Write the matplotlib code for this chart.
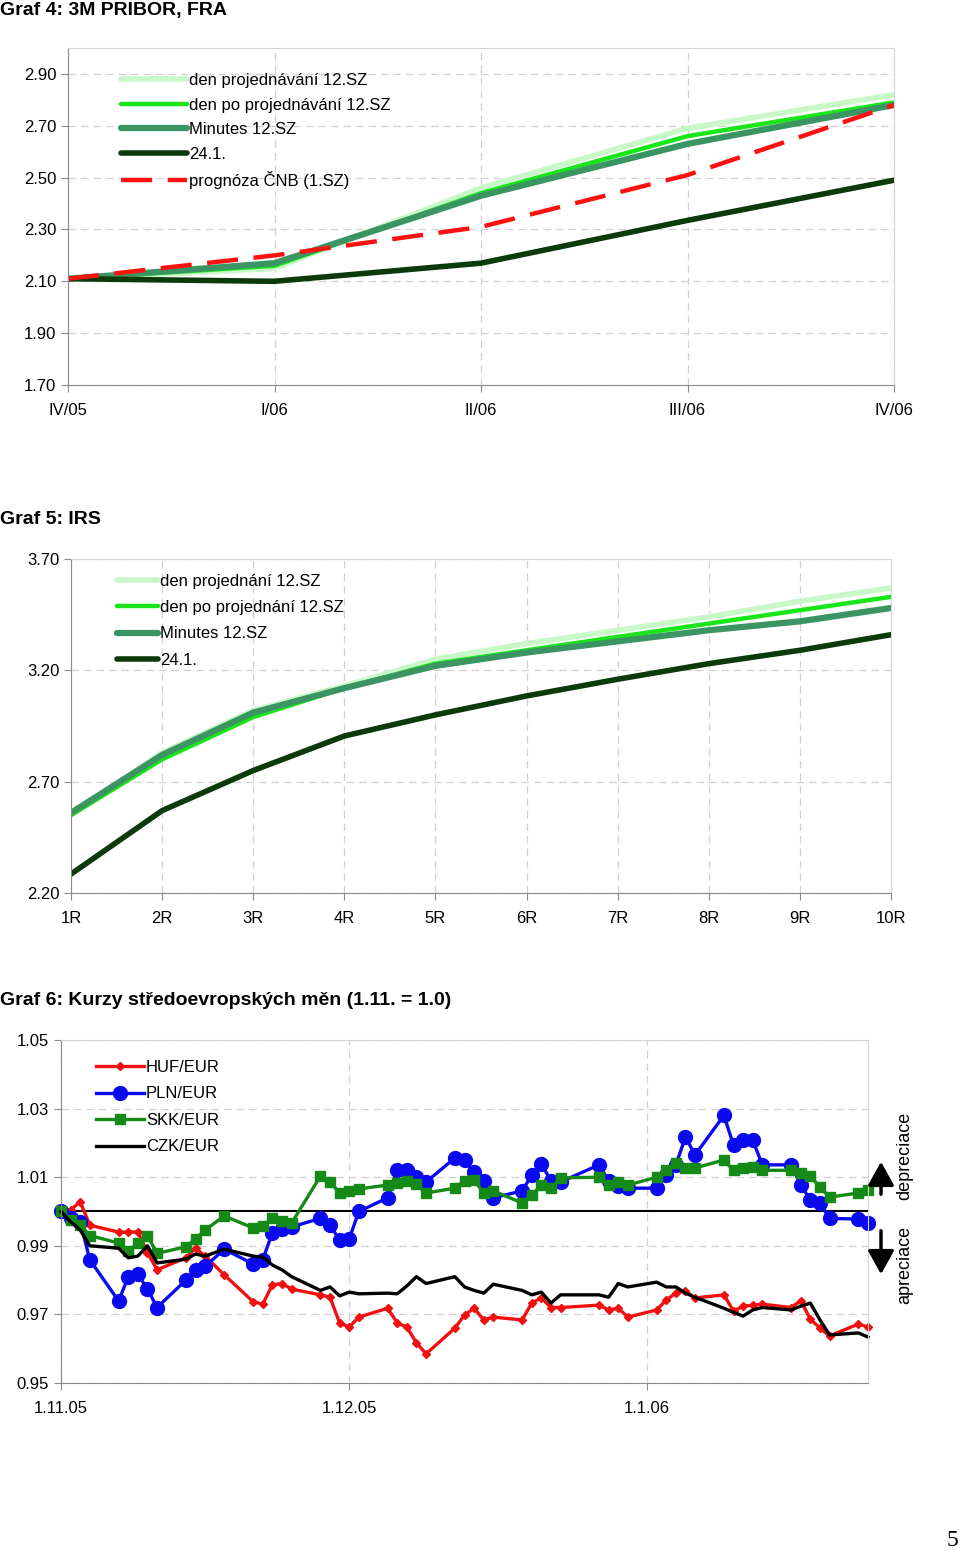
import matplotlib
matplotlib.use("Agg")
import matplotlib.pyplot as plt
import matplotlib.dates as mdates
import pandas as pd

plt.rcParams['font.family'] = ['Liberation Sans', 'DejaVu Sans']
TITLE_FONT = ['Liberation Sans Narrow', 'Liberation Sans', 'DejaVu Sans']

# ---------- data: Graf 4 ----------
fra_labels = ['IV/05', 'I/06', 'II/06', 'III/06', 'IV/06']
fra_den = [2.11, 2.15, 2.46, 2.69, 2.82]
fra_po = [2.11, 2.16, 2.44, 2.66, 2.79]
fra_minutes = [2.11, 2.17, 2.43, 2.63, 2.78]
fra_241 = [2.11, 2.10, 2.17, 2.335, 2.49]
fra_cnb = [2.11, 2.20, 2.31, 2.51, 2.78]

# ---------- data: Graf 5 ----------
irs_labels = ['1R', '2R', '3R', '4R', '5R', '6R', '7R', '8R', '9R', '10R']
irs_den = [2.55, 2.83, 3.02, 3.13, 3.25, 3.32, 3.38, 3.44, 3.51, 3.57]
irs_po = [2.55, 2.80, 2.99, 3.12, 3.23, 3.29, 3.35, 3.41, 3.47, 3.53]
irs_minutes = [2.56, 2.82, 3.01, 3.12, 3.22, 3.28, 3.33, 3.38, 3.42, 3.48]
irs_241 = [2.285, 2.57, 2.75, 2.905, 3.00, 3.085, 3.16, 3.23, 3.29, 3.36]

# ---------- data: Graf 6 ----------
fx_dates = pd.to_datetime([
    '2005-11-01', '2005-11-02', '2005-11-03', '2005-11-04', '2005-11-07', '2005-11-08', '2005-11-09',
    '2005-11-10', '2005-11-11', '2005-11-14', '2005-11-15', '2005-11-16', '2005-11-18', '2005-11-21',
    '2005-11-22', '2005-11-23', '2005-11-24', '2005-11-25', '2005-11-28', '2005-11-29', '2005-11-30',
    '2005-12-01', '2005-12-02', '2005-12-05', '2005-12-06', '2005-12-07', '2005-12-08', '2005-12-09',
    '2005-12-12', '2005-12-13', '2005-12-14', '2005-12-15', '2005-12-16', '2005-12-19', '2005-12-20',
    '2005-12-21', '2005-12-22', '2005-12-23', '2005-12-27', '2005-12-28', '2005-12-29', '2005-12-30',
    '2006-01-02', '2006-01-03', '2006-01-04', '2006-01-05', '2006-01-06', '2006-01-09', '2006-01-10',
    '2006-01-11', '2006-01-12', '2006-01-13', '2006-01-16', '2006-01-17', '2006-01-18', '2006-01-19',
    '2006-01-20', '2006-01-23', '2006-01-24'])

huf = [1.000, 1.0005, 1.0028, 0.996, 0.994, 0.994, 0.994, 0.988, 0.983, 0.9865, 0.9893, 0.987, 0.9815,
       0.9737, 0.973, 0.9786, 0.979, 0.9774, 0.9757, 0.975, 0.9675,
       0.9663, 0.9692, 0.9718, 0.9675, 0.9663, 0.9617, 0.9585, 0.966, 0.9698, 0.9718, 0.9684, 0.9692,
       0.9684, 0.9733, 0.9748, 0.972, 0.972, 0.9727, 0.9713, 0.9718, 0.9692,
       0.9713, 0.9742, 0.9762, 0.9768, 0.9748, 0.9757, 0.971, 0.9724, 0.9727, 0.973, 0.972, 0.974,
       0.9686, 0.966, 0.9637, 0.9672, 0.9663]
pln = [1.000, 0.998, 0.997, 0.9859, 0.9739, 0.981, 0.9817, 0.9774, 0.972, 0.980, 0.983, 0.984, 0.989,
       0.9847, 0.986, 0.9937, 0.995, 0.9955, 0.998, 0.996, 0.9917,
       0.992, 1.000, 1.004, 1.012, 1.012, 1.010, 1.0086, 1.0156, 1.015, 1.0115, 1.009, 1.004,
       1.006, 1.0106, 1.0138, 1.009, 1.0086, 1.0136, 1.009, 1.0074, 1.0068,
       1.0068, 1.0106, 1.0136, 1.0217, 1.0165, 1.028, 1.0194, 1.0208, 1.0208, 1.0136, 1.0136, 1.0077,
       1.0034, 1.0025, 0.998, 0.9978, 0.9967]
skk = [1.000, 0.9975, 0.996, 0.993, 0.9908, 0.9885, 0.9908, 0.9929, 0.9878, 0.9897, 0.992, 0.9946, 0.9987,
       0.9952, 0.9958, 0.998, 0.9973, 0.9966, 1.0103, 1.0086, 1.0054,
       1.006, 1.0066, 1.0077, 1.0083, 1.009, 1.008, 1.0054, 1.0068, 1.009, 1.0092, 1.0054, 1.006,
       1.0025, 1.0048, 1.0077, 1.0068, 1.0098, 1.010, 1.0077, 1.0086, 1.0077,
       1.010, 1.012, 1.014, 1.0127, 1.0127, 1.015, 1.012, 1.0127, 1.013, 1.012, 1.012, 1.0112,
       1.0103, 1.0071, 1.0042, 1.0054, 1.0063]
czk = [1.000, 0.997, 0.9946, 0.990, 0.9893, 0.9865, 0.987, 0.990, 0.985, 0.9861, 0.9876, 0.987, 0.989,
       0.987, 0.9867, 0.9844, 0.983, 0.981, 0.977, 0.978, 0.9754,
       0.9765, 0.976, 0.9762, 0.976, 0.9783, 0.981, 0.979, 0.981, 0.978, 0.977, 0.9762, 0.9788,
       0.977, 0.9757, 0.9765, 0.9733, 0.9757, 0.9757, 0.975, 0.979, 0.978,
       0.9794, 0.978, 0.978, 0.9762, 0.975, 0.9718, 0.9706, 0.9695, 0.9713, 0.972, 0.9713, 0.9724,
       0.9733, 0.9684, 0.964, 0.9646, 0.9634]

W, H = 960, 1550
fig = plt.figure(figsize=(W / 100, H / 100), dpi=100)


def px_axes(left, top, right, bottom):
    return fig.add_axes([left / W, 1 - bottom / H, (right - left) / W, (bottom - top) / H])


def style_axes(ax):
    for s in ['top', 'right']:
        ax.spines[s].set_color('#d4d4d4')
    for s in ['left', 'bottom']:
        ax.spines[s].set_color('#8a8a8a')
    ax.tick_params(direction='out', length=5, color='#8a8a8a', labelsize=12)
    ax.grid(True, color='#d0d0d0', linestyle=(0, (6, 4)), linewidth=0.9)
    ax.set_axisbelow(True)


# ---------- Graf 4 ----------
fig.text(0.0, 1 - 11 / H, 'Graf 4: 3M PRIBOR, FRA', family=TITLE_FONT, weight='bold',
         fontsize=14, va='center', ha='left')
ax1 = px_axes(68, 48, 894, 385)
style_axes(ax1)
x1 = range(len(fra_labels))
ax1.plot(x1, fra_den, color='#c8f7c8', lw=4.0, label='den projednávání 12.SZ', solid_capstyle='round')
ax1.plot(x1, fra_po, color='#19e619', lw=3.2, label='den po projednávání 12.SZ', solid_capstyle='round')
ax1.plot(x1, fra_minutes, color='#3a9563', lw=4.5, label='Minutes 12.SZ', solid_capstyle='round')
ax1.plot(x1, fra_241, color='#0b3a0b', lw=4.0, label='24.1.', solid_capstyle='round')
ax1.plot(x1, fra_cnb, color='#ff1010', lw=3.2, dashes=(7, 3.5), label='prognóza ČNB (1.SZ)')
ax1.set_xlim(0, 4)
ax1.set_ylim(1.70, 3.00)
ax1.set_yticks([1.70, 1.90, 2.10, 2.30, 2.50, 2.70, 2.90])
ax1.set_yticklabels(['%.2f' % v for v in [1.70, 1.90, 2.10, 2.30, 2.50, 2.70, 2.90]])
ax1.set_xticks(list(x1))
ax1.set_xticklabels(fra_labels)
ax1.tick_params(axis='x', pad=8)
ax1.legend(loc='upper left', bbox_to_anchor=(0.0496, 0.96), frameon=False, fontsize=12,
           handlelength=4.0, handletextpad=0.1, labelspacing=0.57, borderpad=0.2)

# ---------- Graf 5 ----------
fig.text(0.0, 1 - 519 / H, 'Graf 5: IRS', family=TITLE_FONT, weight='bold',
         fontsize=14, va='center', ha='left')
ax2 = px_axes(71, 559, 891, 893)
style_axes(ax2)
x2 = range(len(irs_labels))
ax2.plot(x2, irs_den, color='#c8f7c8', lw=4.0, label='den projednání 12.SZ', solid_capstyle='round')
ax2.plot(x2, irs_po, color='#19e619', lw=3.2, label='den po projednání 12.SZ', solid_capstyle='round')
ax2.plot(x2, irs_minutes, color='#3a9563', lw=4.5, label='Minutes 12.SZ', solid_capstyle='round')
ax2.plot(x2, irs_241, color='#0b3a0b', lw=4.0, label='24.1.', solid_capstyle='round')
ax2.set_xlim(0, 9)
ax2.set_ylim(2.20, 3.70)
ax2.set_yticks([2.20, 2.70, 3.20, 3.70])
ax2.set_yticklabels(['2.20', '2.70', '3.20', '3.70'])
ax2.set_xticks(list(x2))
ax2.set_xticklabels(irs_labels)
ax2.tick_params(axis='x', pad=8)
ax2.legend(loc='upper left', bbox_to_anchor=(0.0415, 0.99), frameon=False, fontsize=12,
           handlelength=2.5, handletextpad=0.1, labelspacing=0.67, borderpad=0.2)

# ---------- Graf 6 ----------
fig.text(0.0, 1 - 1001 / H, 'Graf 6: Kurzy středoevropských měn (1.11. = 1.0)', family=TITLE_FONT,
         weight='bold', fontsize=14, va='center', ha='left')
ax3 = px_axes(61, 1040, 868, 1383)
style_axes(ax3)
ax3.axhline(1.0, color='black', lw=1.5, zorder=1)
ax3.plot(fx_dates, huf, color='#f01010', lw=2.4, marker='D', ms=4.5, label='HUF/EUR', clip_on=False)
ax3.plot(fx_dates, pln, color='#0a0aee', lw=2.4, marker='o', ms=10, label='PLN/EUR', clip_on=False)
ax3.plot(fx_dates, skk, color='#168a16', lw=2.4, marker='s', ms=7.5, label='SKK/EUR', clip_on=False)
ax3.plot(fx_dates, czk, color='black', lw=2.4, label='CZK/EUR', clip_on=False)
ax3.set_xlim(pd.Timestamp('2005-11-01'), pd.Timestamp('2006-01-24'))
ax3.set_ylim(0.95, 1.05)
yt = [0.95, 0.97, 0.99, 1.01, 1.03, 1.05]
ax3.set_yticks(yt)
ax3.set_yticklabels(['%.2f' % v for v in yt])
xt = pd.to_datetime(['2005-11-01', '2005-12-01', '2006-01-01'])
ax3.set_xticks(xt)
ax3.set_xticklabels(['1.11.05', '1.12.05', '1.1.06'])
ax3.tick_params(axis='x', pad=8)
ax3.legend(loc='upper left', bbox_to_anchor=(0.029, 0.976), frameon=False, fontsize=12,
           handlelength=2.9, handletextpad=0.1, labelspacing=0.69, borderpad=0.2)

# arrows and side labels
fig.add_artist(matplotlib.patches.FancyArrowPatch((881 / W, 1 - 1197 / H), (881 / W, 1 - 1159 / H),
               transform=fig.transFigure, arrowstyle='-|>,head_length=9,head_width=5',
               color='black', lw=2.5, mutation_scale=1.6))
fig.add_artist(matplotlib.patches.FancyArrowPatch((881 / W, 1 - 1228 / H), (881 / W, 1 - 1277 / H),
               transform=fig.transFigure, arrowstyle='-|>,head_length=9,head_width=5',
               color='black', lw=2.5, mutation_scale=1.6))
fig.text(905 / W, 1 - 1156 / H, 'depreciace', rotation=90, fontsize=13, ha='center', va='center')
fig.text(905 / W, 1 - 1265 / H, 'apreciace', rotation=90, fontsize=13, ha='center', va='center')

fig.text(952 / W, 1 - 1540 / H, '5', family=['Liberation Serif', 'DejaVu Serif'], fontsize=17,
         ha='center', va='center')

fig.savefig('out.png', dpi=100)
